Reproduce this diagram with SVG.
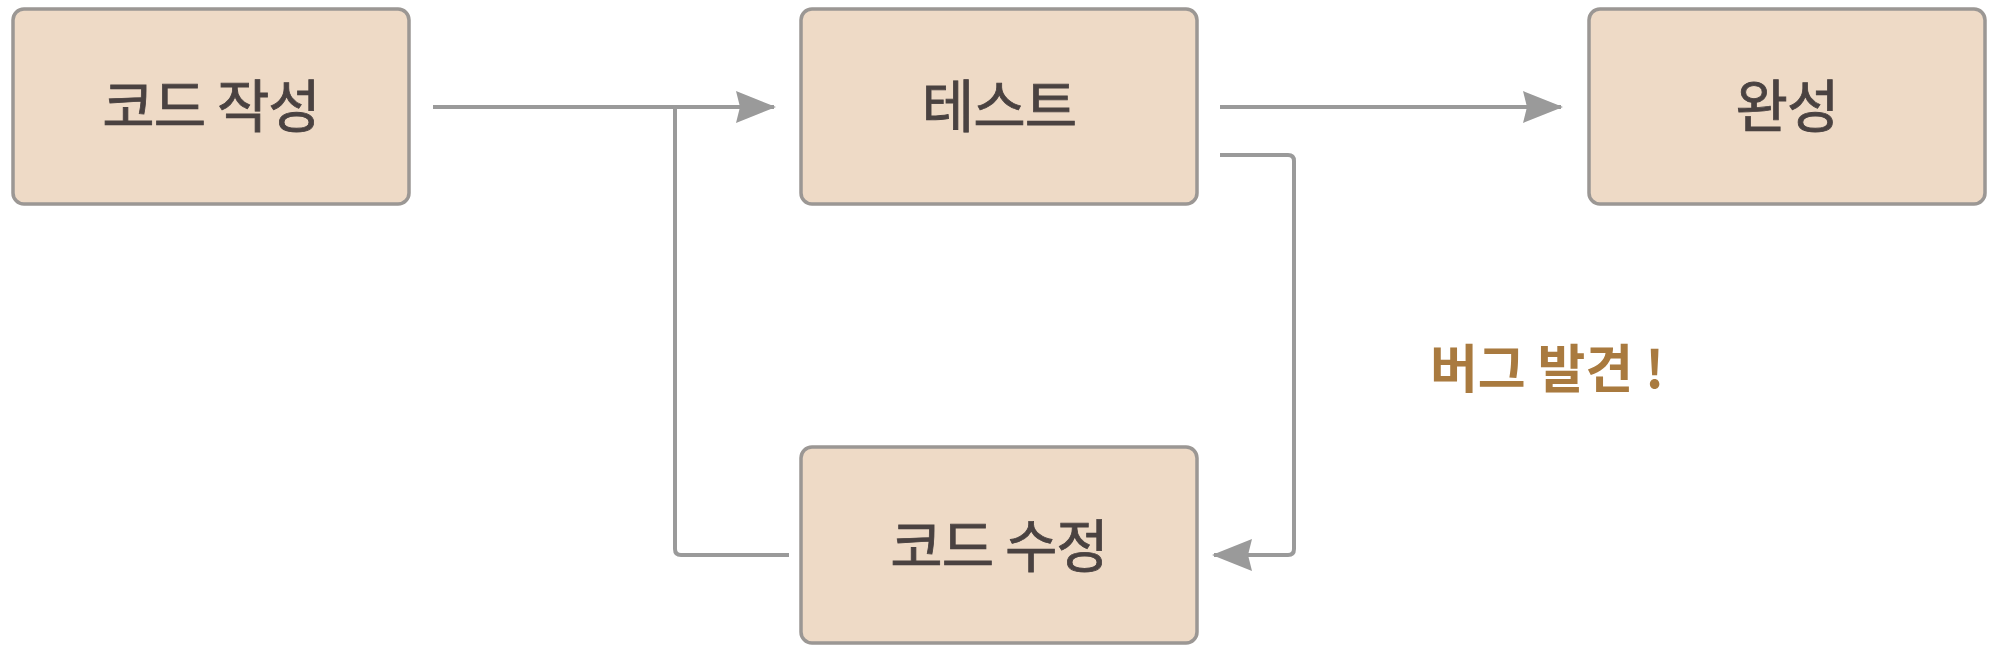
<svg xmlns="http://www.w3.org/2000/svg" width="1996" height="658" viewBox="0 0 1996 658">
<style>
.box{fill:#eedac6;stroke:#9b9794;stroke-width:3.5}
.lbl{font-family:"Noto Sans CJK KR","Noto Sans",sans-serif;font-size:57px;letter-spacing:-1px;fill:#4a4241;stroke:#4a4241;stroke-width:0.8px;text-anchor:middle}
.conn{fill:none;stroke:#9a9a9a;stroke-width:4;stroke-linejoin:round}
.note{font-family:"Noto Sans CJK KR","Noto Sans",sans-serif;font-size:52px;font-weight:bold;fill:#a97a3f}
</style>
<defs>
<marker id="ah" viewBox="0 0 40 32" refX="38" refY="16" markerWidth="40" markerHeight="32" markerUnits="userSpaceOnUse" orient="auto">
<path d="M0,0 L40,16 L0,32 L4,16 Z" fill="#9a9a9a"/>
</marker>
</defs>
<rect width="1996" height="658" fill="#ffffff"/>
<g id="connectors">
<path class="conn" d="M433,107 L774,107" marker-end="url(#ah)"/>
<path class="conn" d="M789,555 L681,555 Q675,555 675,549 L675,107"/>
<path class="conn" d="M1220,107 L1561,107" marker-end="url(#ah)"/>
<path class="conn" d="M1220,155 L1288,155 Q1294,155 1294,161 L1294,549 Q1294,555 1288,555 L1214,555" marker-end="url(#ah)"/>
</g>
<g id="node-write">
<rect class="box" x="13" y="9" width="396" height="195" rx="11"/>
<text class="lbl" x="211" y="127">코드 작성</text>
</g>
<g id="node-test">
<rect class="box" x="801" y="9" width="396" height="195" rx="11"/>
<text class="lbl" x="999" y="127">테스트</text>
</g>
<g id="node-done">
<rect class="box" x="1589" y="9" width="396" height="195" rx="11"/>
<text class="lbl" x="1787" y="127">완성</text>
</g>
<g id="node-fix">
<rect class="box" x="801" y="447" width="396" height="196" rx="11"/>
<text class="lbl" x="999" y="567">코드 수정</text>
</g>
<g id="label-bug">
<text class="note" x="1430" y="388">버그 발견 !</text>
</g>
</svg>
